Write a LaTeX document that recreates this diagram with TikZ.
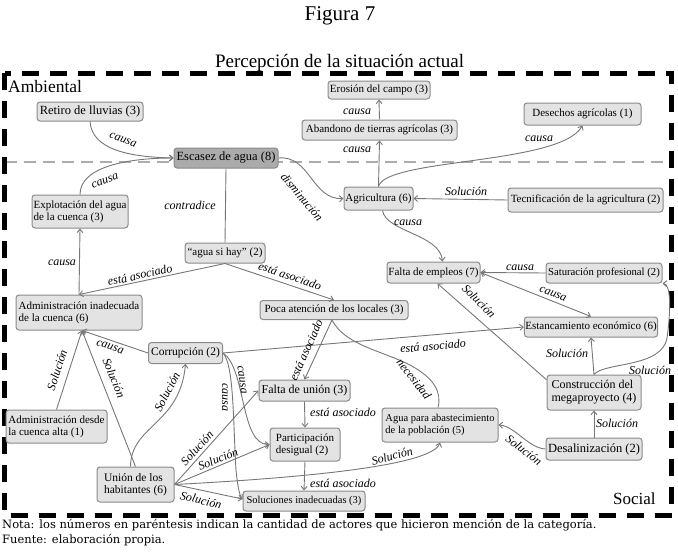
\documentclass[tikz,border=0pt]{standalone}
\usepackage{fontspec}
\setmainfont{Liberation Serif}
\newfontfamily\notefont{DejaVu Serif}
\usetikzlibrary{arrows.meta,calc}
\definecolor{boxfill}{HTML}{E3E3E3}
\definecolor{boxline}{HTML}{8A8A8A}
\definecolor{darkfill}{HTML}{ABABAB}
\definecolor{edgecol}{HTML}{777777}
\newcommand{\fs}[1]{\fontsize{#1}{#1}\selectfont}
\begin{document}
\begin{tikzpicture}[x=1pt,y=-1pt,
  nbox/.style={draw=boxline, fill=boxfill, rounded corners=3pt, line width=1pt, inner sep=1pt},
  lab/.style={font=\fs{12}\itshape, inner sep=0.5pt},
  arr/.style={draw=edgecol, line width=0.9pt, -{Straight Barb[length=3.5pt,width=6pt]}},
  plain/.style={draw=edgecol, line width=0.9pt},
  dbl/.style={draw=edgecol, line width=0.9pt, {Straight Barb[length=3.5pt,width=6pt]}-{Straight Barb[length=3.5pt,width=6pt]}}
]
\useasboundingbox (0,0) rectangle (678,554);
% frames
\draw[gray!65, line width=1.3pt, dash pattern=on 12pt off 7pt] (4.5,162) -- (671.5,162);
\draw[line width=5pt, dash pattern=on 17pt off 11pt] (4.5,73) rectangle (671.5,515);
% titles
\node[anchor=base, inner sep=0] (fig) at (340,20) {\fs{21}Figura 7};
\node[anchor=base, inner sep=0] (title) at (339.5,67) {\fs{19}Percepción de la situación actual};
\node[anchor=base west, inner sep=0] (amb) at (8,92) {\fs{17.5}Ambiental};
\node[anchor=base west, inner sep=0] (soc) at (613,504) {\fs{17}Social};
\node[anchor=base west, inner sep=0] (nota) at (2,528) {\notefont\fs{11.5}Nota: los números en paréntesis indican la cantidad de actores que hicieron mención de la categoría.};
\node[anchor=base west, inner sep=0] (fuente) at (2,543) {\notefont\fs{11.5}Fuente: elaboración propia.};
% nodes
\node[nbox, minimum width=106pt, minimum height=19pt, font=\fs{12.5}] (retiro) at (90,111.5) {Retiro de lluvias (3)};
\node[nbox, fill=darkfill, minimum width=104pt, minimum height=20pt, font=\fs{12.5}] (escasez) at (226,158) {Escasez de agua (8)};
\node[nbox, minimum width=102pt, minimum height=18pt, font=\fs{11}] (erosion) at (379,90) {Erosión del campo (3)};
\node[nbox, minimum width=155pt, minimum height=20pt, font=\fs{11}] (abandono) at (379.5,130) {Abandono de tierras agrícolas (3)};
\node[nbox, minimum width=117pt, minimum height=22pt, font=\fs{11}] (desechos) at (582.5,114) {Desechos agrícolas (1)};
\node[nbox, minimum width=96pt, minimum height=33pt, font=\fs{11}, align=left] (explot) at (80,211.5) {Explotación del agua\\[1pt]de la cuenca (3)};
\node[nbox, minimum width=69pt, minimum height=23pt, font=\fs{11}] (agric) at (378.5,198.5) {Agricultura (6)};
\node[nbox, minimum width=155pt, minimum height=24pt, font=\fs{11}] (tecnif) at (585.5,200) {Tecnificación de la agricultura (2)};
\node[nbox, minimum width=80pt, minimum height=20pt, font=\fs{11}] (aguasi) at (225,253) {“agua si hay” (2)};
\node[nbox, minimum width=93pt, minimum height=21pt, font=\fs{11}] (empleos) at (433.5,272.5) {Falta de empleos (7)};
\node[nbox, minimum width=116pt, minimum height=20pt, font=\fs{10.7}] (satur) at (604,273) {Saturación profesional (2)};
\node[nbox, minimum width=126pt, minimum height=35pt, font=\fs{11}, align=left] (adm) at (79,312.5) {Administración inadecuada\\[1pt]de la cuenca (6)};
\node[nbox, minimum width=148pt, minimum height=19pt, font=\fs{11}] (poca) at (334,310) {Poca atención de los locales (3)};
\node[nbox, minimum width=132pt, minimum height=20pt, font=\fs{11}] (estanc) at (591,327) {Estancamiento económico (6)};
\node[nbox, minimum width=74pt, minimum height=21pt, font=\fs{11.5}] (corrup) at (185.5,353) {Corrupción (2)};
\node[nbox, minimum width=91pt, minimum height=21pt, font=\fs{12}] (falta) at (304.5,390.5) {Falta de unión (3)};
\node[nbox, minimum width=94pt, minimum height=35pt, font=\fs{12}, align=left] (constr) at (594,392.5) {Construcción del\\[1pt]megaproyecto (4)};
\node[nbox, minimum width=101pt, minimum height=33pt, font=\fs{11}, align=left] (admdesde) at (56.5,426.5) {Administración desde\\[1pt]la cuenca alta (1)};
\node[nbox, minimum width=116pt, minimum height=34pt, font=\fs{10.5}, align=left] (agua) at (440,425) {Agua para abastecimiento\\[1pt]de la población (5)};
\node[nbox, minimum width=70pt, minimum height=33pt, font=\fs{11}, align=left] (partic) at (305,444.5) {Participación\\[1pt]desigual (2)};
\node[nbox, minimum width=96pt, minimum height=22pt, font=\fs{12.5}] (desal) at (594,449) {Desalinización (2)};
\node[nbox, minimum width=77pt, minimum height=35pt, font=\fs{11.5}, align=left] (union) at (135.5,484.5) {Unión de los\\[1pt]habitantes (6)};
\node[nbox, minimum width=122pt, minimum height=20pt, font=\fs{10.5}] (soluc) at (304,501) {Soluciones inadecuadas (3)};
% edges
\draw[arr] (retiro.south) .. controls (92,150) and (130,157) .. (escasez.west);
\draw[arr] (explot.north) .. controls (80,166) and (130,158) .. (escasez.west);
\draw[plain] (escasez.south) -- (aguasi.north);
\draw[arr] (escasez.east) .. controls (310,155) and (312,200) .. (agric.west);
\draw[arr] (agric.north) -- (abandono.south);
\draw[arr] (abandono.north) -- (erosion.south);
\draw[arr] (agric.north) .. controls (386,158) and (560,165) .. (desechos.south);
\draw[arr] (tecnif.west) -- (agric.east);
\draw[arr] ([xshift=4pt]agric.south) .. controls (386,232) and (440,234) .. ([xshift=9pt]empleos.north);
\draw[arr] (aguasi.south) -- (adm.north);
\draw[arr] (aguasi.south) -- (poca.north);
\draw[arr] (adm.north) -- (explot.south);
\draw[arr] (satur.west) -- (empleos.east);
\draw[dbl] (empleos.east) -- (estanc.north);
\draw[arr] (constr.165) -- ([xshift=4pt]empleos.south);
\draw[arr] (constr.north) -- (estanc.south);
\draw[arr] (constr.north) .. controls (604,362) and (662,368) .. (667,338) .. controls (671,310) and (671,284) .. (satur.south east);
\draw[arr] (desal.north) -- (constr.south);
\draw[arr] (desal.west) .. controls (528,448) and (515,426) .. (agua.east);
\draw[arr] (falta.south) -- (partic.north);
\draw[arr] (partic.south) -- (soluc.north);
\draw[arr] ([xshift=-2pt]poca.south) -- (falta.north);
\draw[plain] ([xshift=-2pt]poca.south) .. controls (345,345) and (380,350) .. (410,365) .. controls (434,378) and (442,392) .. ([xshift=-2pt]agua.north);
\draw[arr] (corrup.east) -- (estanc.west);
\draw[arr] (corrup.west) -- ([xshift=3pt]adm.south);
\draw[arr] (corrup.east) .. controls (234,365) and (233,420) .. (236,470) .. controls (238,490) and (240,496) .. ([yshift=2pt]soluc.west);
\draw[arr] (corrup.east) .. controls (246,368) and (240,445) .. (partic.west);
\draw[arr] (union.north) -- ([xshift=3pt]adm.south);
\draw[arr] (admdesde.north) -- ([xshift=3pt]adm.south);
\draw[arr] ([xshift=-5pt]union.north) .. controls (131,425) and (180,425) .. (corrup.south);
\draw[arr] (union.east) -- (falta.west);
\draw[arr] (union.east) -- (partic.west);
\draw[arr] (union.east) -- ([yshift=2pt]soluc.west);
\draw[arr] (union.east) .. controls (300,478) and (432,466) .. (agua.south);
% labels
\node[lab, rotate=-20] (l1) at (123,140) {causa};
\node[lab, rotate=20] (l2) at (105,181) {causa};
\node[lab] (l3) at (190,205) {contradice};
\node[lab, rotate=-50] (l4) at (302,197) {disminución};
\node[lab] (l5) at (357,150) {causa};
\node[lab] (l6) at (357,112) {causa};
\node[lab] (l7) at (539,139) {causa};
\node[lab] (l8) at (466,191) {Solución};
\node[lab] (l9) at (408,223) {causa};
\node[lab] (l10) at (62,263) {causa};
\node[lab, rotate=12] (l11) at (140,275) {está asociado};
\node[lab, rotate=-19] (l12) at (290,276) {está asociado};
\node[lab] (l13) at (520,268) {causa};
\node[lab, rotate=-21] (l14) at (553,294) {causa};
\node[lab, rotate=-45] (l15) at (479,301) {Solución};
\node[lab] (l16) at (567,353) {Solución};
\node[lab] (l17) at (650,370) {Solución};
\node[lab] (l18) at (617,423) {Solución};
\node[lab, rotate=-38] (l19) at (524,450) {Solución};
\node[lab] (l20) at (343,412) {está asociado};
\node[lab] (l21) at (343,483) {está asociado};
\node[lab, rotate=66] (l22) at (306,350) {está asociado};
\node[lab, rotate=-52] (l23) at (414,379) {necesidad};
\node[lab, rotate=5] (l24) at (433,346) {está asociado};
\node[lab, rotate=-18] (l25) at (110,347) {causa};
\node[lab, rotate=-90] (l26) at (225,397) {causa};
\node[lab, rotate=-82] (l27) at (242,380) {causa};
\node[lab, rotate=-68] (l28) at (114,378) {Solución};
\node[lab, rotate=72] (l29) at (57,370) {Solución};
\node[lab, rotate=62] (l30) at (167,392) {Solución};
\node[lab, rotate=48] (l31) at (197,448) {Solución};
\node[lab, rotate=22] (l32) at (218,459) {Solución};
\node[lab, rotate=-13] (l33) at (201,500) {Solución};
\node[lab, rotate=15] (l34) at (392,456) {Solución};
\end{tikzpicture}
\end{document}
